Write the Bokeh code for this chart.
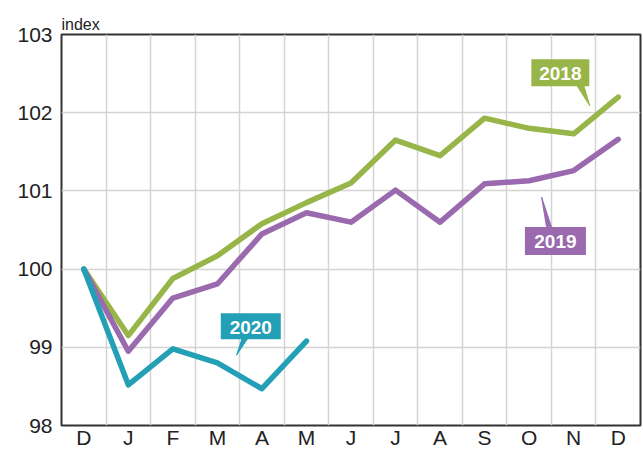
from bokeh.plotting import figure
from bokeh.models import FixedTicker, Range1d
from bokeh.embed import file_html
from bokeh.resources import INLINE
from bokeh.core.properties import value

months = ["D", "J", "F", "M", "A", "M", "J", "J", "A", "S", "O", "N", "D"]
idx_2018 = [100, 99.15, 99.88, 100.17, 100.58, 100.85, 101.1, 101.65, 101.45, 101.93, 101.8, 101.73, 102.2]
idx_2019 = [100, 98.95, 99.63, 99.81, 100.45, 100.72, 100.6, 101.01, 100.6, 101.09, 101.13, 101.26, 101.66]
idx_2020 = [100, 98.52, 98.98, 98.8, 98.47, 99.08]
y_ticks = [98, 99, 100, 101, 102, 103]

GREEN = "#97b548"
PURPLE = "#9a69ae"
TEAL = "#23a0b6"
FONT = "Liberation Sans"

p = figure(width=643, height=451, output_backend="svg", toolbar_location=None,
           x_range=Range1d(-0.5, 12.5), y_range=Range1d(98, 103),
           min_border_left=61, min_border_right=3, min_border_top=34, min_border_bottom=10,
           title="index")
p.title.align = "left"
p.title.text_font = FONT
p.title.text_font_size = "16px"
p.title.text_font_style = "normal"
p.title.text_color = "#222222"
p.title.standoff = 3
p.title.offset = 0

p.background_fill_color = "white"
p.border_fill_color = "white"
p.outline_line_color = "#333333"
p.outline_line_width = 2

xs = list(range(len(months)))
p.xaxis.ticker = FixedTicker(ticks=xs)
p.xaxis.major_label_overrides = {i: m for i, m in enumerate(months)}
p.xgrid.ticker = FixedTicker(ticks=[i + 0.5 for i in range(len(months) - 1)])
p.yaxis.ticker = FixedTicker(ticks=y_ticks)

for ax in (p.xaxis[0], p.yaxis[0]):
    ax.axis_line_color = None
    ax.major_tick_line_color = None
    ax.minor_tick_line_color = None
    ax.major_tick_out = 0
    ax.major_tick_in = 0
    ax.minor_tick_out = 0
    ax.minor_tick_in = 0
    ax.major_label_text_font = FONT
    ax.major_label_text_font_size = "21px"
    ax.major_label_text_color = "#222222"
p.xaxis.major_label_standoff = 0
p.yaxis.major_label_standoff = 9

for g in (p.xgrid[0], p.ygrid[0]):
    g.grid_line_color = "#d4d4d4"
    g.grid_line_width = 1.5

p.line(xs, idx_2018, line_color=GREEN, line_width=5.5, line_join="round", line_cap="round")
p.line(xs, idx_2019, line_color=PURPLE, line_width=5.5, line_join="round", line_cap="round")
p.line(xs[:len(idx_2020)], idx_2020, line_color=TEAL, line_width=5.5, line_join="round", line_cap="round")

# callouts: text, colour, centre, box size (px), pointer polygon
callouts = [
    ("2018", GREEN, 10.70, 102.51, 58, 27, [11.08, 11.23, 11.36], [102.34, 102.34, 102.09]),
    ("2019", PURPLE, 10.59, 100.36, 61, 28, [10.39, 10.50, 10.28], [100.54, 100.54, 100.92]),
    ("2020", TEAL, 3.75, 99.27, 60, 26, [3.56, 3.69, 3.43], [99.12, 99.12, 98.90]),
]
for txt, col, cx, cy, w, h, px, py in callouts:
    p.patch(px, py, fill_color=col, line_color=col, line_width=1)
    p.rect([cx], [cy], width=w, height=h, width_units="screen", height_units="screen",
           fill_color=col, line_color=None)
    p.text([cx], [cy], text=[txt], text_color="white", text_font=value(FONT),
           text_font_style="bold", text_font_size="19px", text_align="center",
           text_baseline="middle", y_offset=1)

open("out.html", "w").write(file_html(p, INLINE))
